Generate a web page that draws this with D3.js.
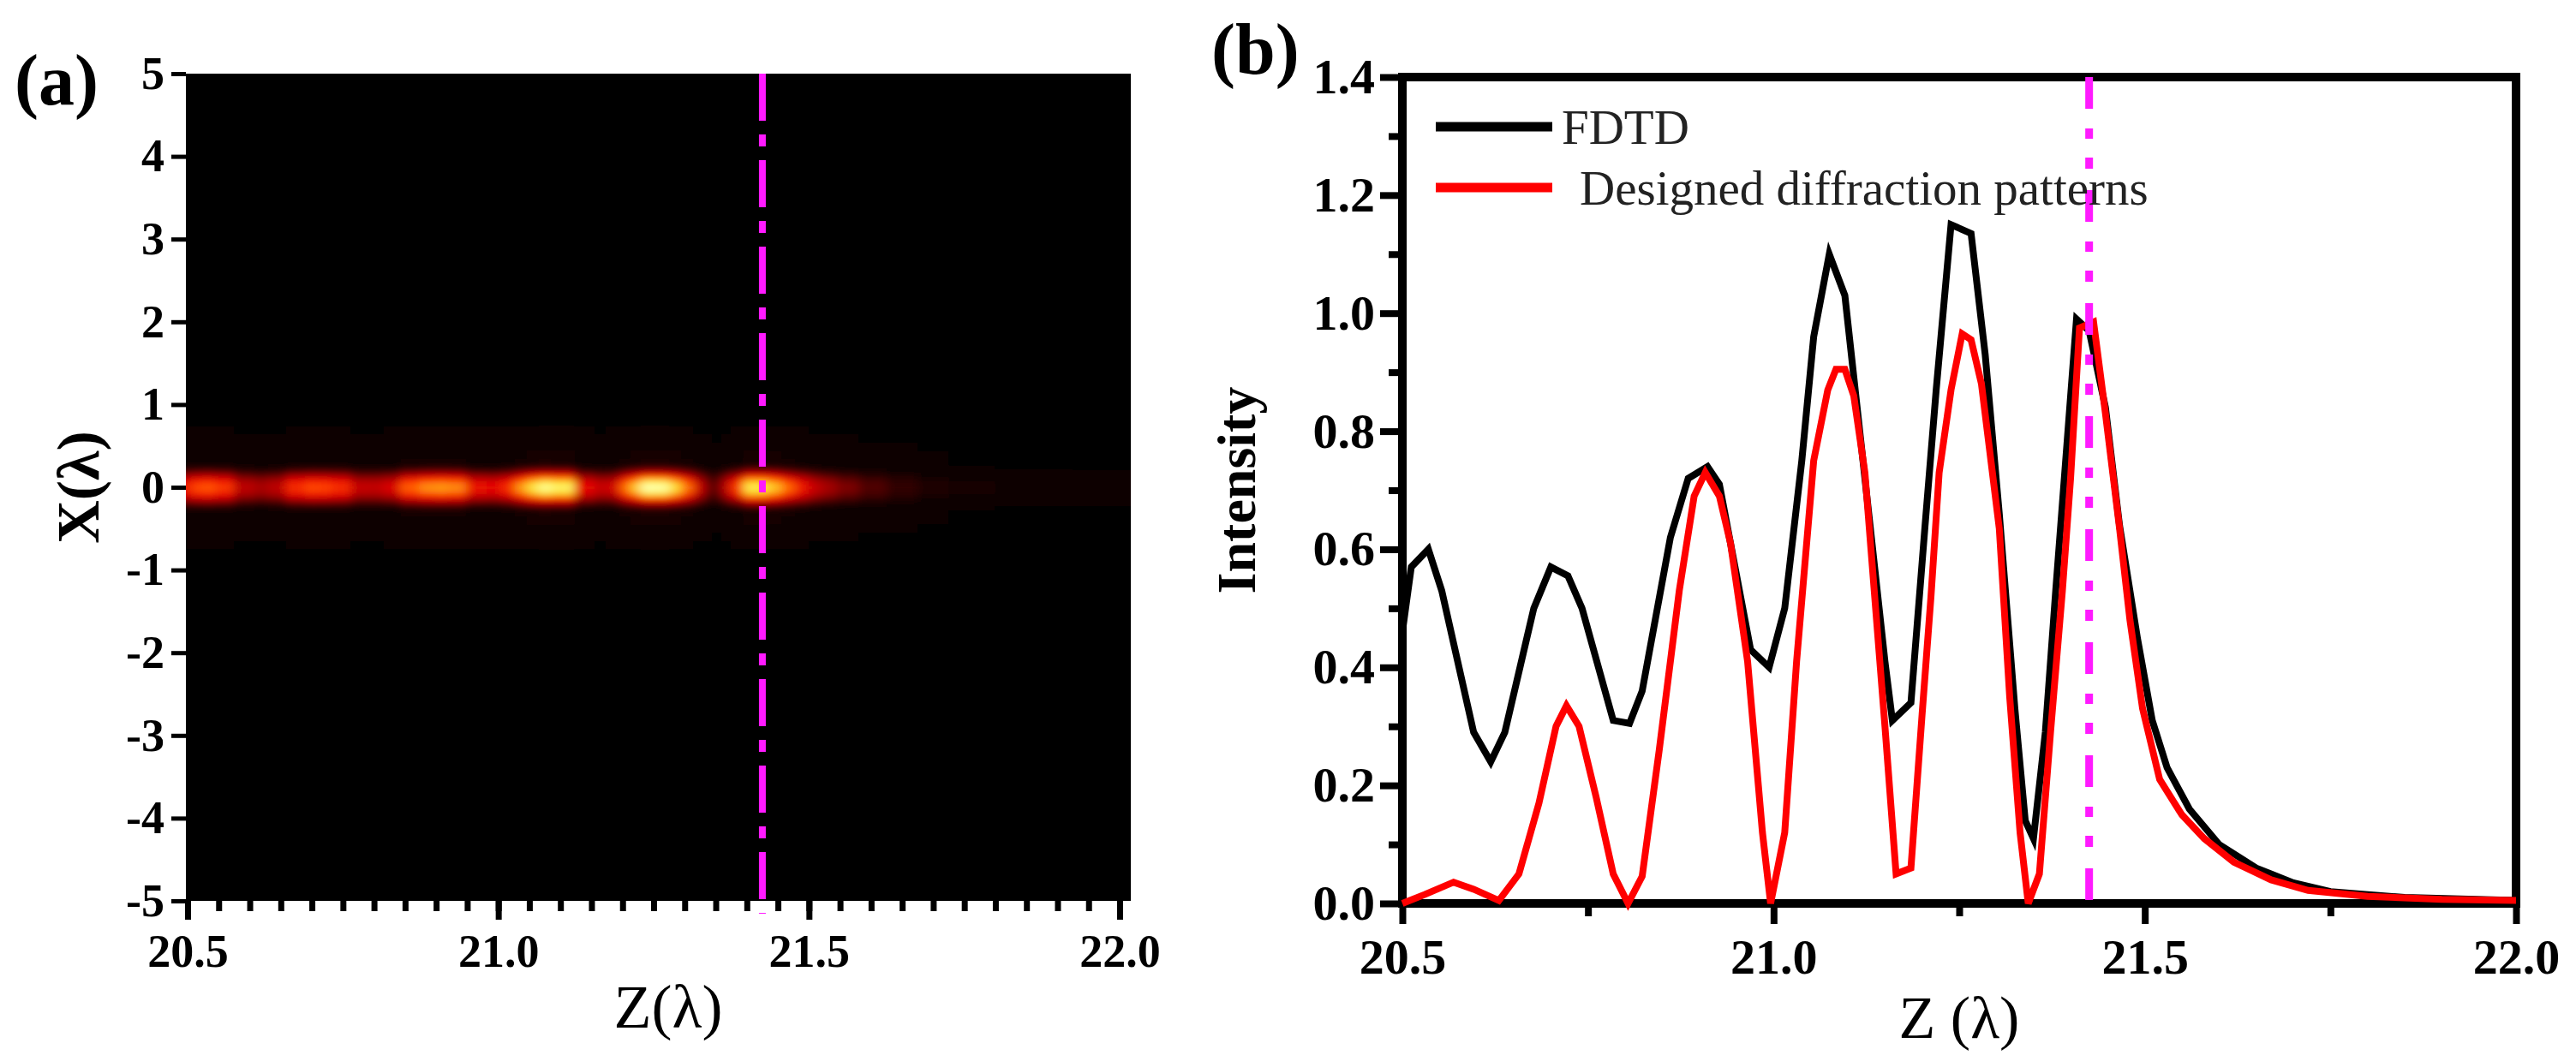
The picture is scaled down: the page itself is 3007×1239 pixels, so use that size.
<!DOCTYPE html>
<html>
<head>
<meta charset="utf-8">
<script src="https://cdn.jsdelivr.net/npm/d3@7"></script>
<style>
  body { margin: 0; background: #fff; }
  svg { display: block; }
</style>
</head>
<body>
<script>
// values

// panel (b) black curve: [z (λ), intensity]
const fdtd = [
  [20.500, 0.46], [20.512, 0.57], [20.535, 0.60], [20.553, 0.53], [20.596, 0.29],
  [20.619, 0.24], [20.638, 0.29], [20.677, 0.50], [20.700, 0.57], [20.723, 0.555],
  [20.742, 0.50], [20.784, 0.31], [20.806, 0.305], [20.823, 0.36], [20.861, 0.62],
  [20.885, 0.72], [20.911, 0.74], [20.927, 0.71], [20.969, 0.43], [20.994, 0.40],
  [21.015, 0.50], [21.038, 0.75], [21.054, 0.96], [21.075, 1.10], [21.096, 1.03],
  [21.150, 0.41], [21.160, 0.31], [21.185, 0.34], [21.204, 0.64], [21.219, 0.87],
  [21.239, 1.15], [21.266, 1.135], [21.285, 0.93], [21.304, 0.66], [21.325, 0.33],
  [21.339, 0.14], [21.350, 0.11], [21.366, 0.29], [21.380, 0.53], [21.408, 0.99],
  [21.425, 0.97], [21.447, 0.84], [21.466, 0.64], [21.490, 0.45], [21.510, 0.31],
  [21.530, 0.23], [21.560, 0.16], [21.600, 0.10], [21.650, 0.06], [21.700, 0.035],
  [21.750, 0.02], [21.850, 0.01], [22.000, 0.005]
];

// panel (b) red curve
const designed = [
  [20.500, 0.0], [20.530, 0.015], [20.569, 0.036], [20.596, 0.024], [20.630, 0.005],
  [20.657, 0.05], [20.684, 0.17], [20.707, 0.30], [20.721, 0.335], [20.738, 0.30],
  [20.761, 0.18], [20.784, 0.05], [20.804, 0.0], [20.823, 0.046], [20.846, 0.26],
  [20.873, 0.53], [20.893, 0.69], [20.908, 0.73], [20.927, 0.69], [20.942, 0.61],
  [20.965, 0.41], [20.985, 0.12], [20.996, 0.0], [21.015, 0.12], [21.031, 0.41],
  [21.054, 0.75], [21.073, 0.87], [21.084, 0.905], [21.096, 0.905], [21.108, 0.86],
  [21.123, 0.73], [21.150, 0.30], [21.165, 0.05], [21.185, 0.06], [21.200, 0.32],
  [21.212, 0.52], [21.223, 0.73], [21.239, 0.87], [21.254, 0.965], [21.266, 0.955],
  [21.280, 0.88], [21.304, 0.635], [21.318, 0.35], [21.332, 0.12], [21.343, 0.0],
  [21.358, 0.05], [21.373, 0.29], [21.389, 0.53], [21.400, 0.72], [21.412, 0.975],
  [21.431, 0.985], [21.447, 0.83], [21.466, 0.635], [21.480, 0.48], [21.497, 0.33],
  [21.520, 0.21], [21.550, 0.15], [21.580, 0.11], [21.620, 0.07], [21.670, 0.04],
  [21.720, 0.022], [21.800, 0.012], [21.900, 0.007], [22.000, 0.005]
];

// panel (a): on-axis field follows the FDTD samples, across the beam it falls off like this
const beamX = [-0.8, -0.7, -0.6, -0.5, -0.4, -0.3, -0.25, -0.2, -0.15, -0.1, -0.05, 0,
               0.05, 0.1, 0.15, 0.2, 0.25, 0.3, 0.4, 0.5, 0.6, 0.7, 0.8];
const beamProfile = [0.0, 0.002, 0.006, 0.012, 0.02, 0.025, 0.06, 0.19, 0.44, 0.72, 0.93, 1.0,
                     0.93, 0.72, 0.44, 0.19, 0.06, 0.025, 0.02, 0.012, 0.006, 0.002, 0.0];

const focusZ = 21.425;

const zTicks = [20.5, 21.0, 21.5, 22.0];
const zMinorA = d3.range(20.5, 22.001, 0.05);
const zMinorB = [20.75, 21.25, 21.75];
const xTicksA = [-5, -4, -3, -2, -1, 0, 1, 2, 3, 4, 5];
const iTicks = [0, 0.2, 0.4, 0.6, 0.8, 1.0, 1.2, 1.4];
const iMinor = [0.1, 0.3, 0.5, 0.7, 0.9, 1.1, 1.3];

const hotColors = ["#060002", "#900000", "#e00000", "#ff4000", "#ff9a10", "#ffe030", "#ffff99", "#ffffff"];

const legendItems = [
  { name: "FDTD", color: "#000" },
  { name: "Designed diffraction patterns", color: "#ff0000" }
];

const W = 3007, H = 1239;
const serif = "'Liberation Serif', 'Times New Roman', serif";

const svg = d3.select("body").append("svg")
    .attr("width", W)
    .attr("height", H);

// ---------- panel (a) ----------
const xA = d3.scaleLinear().domain([20.5, 22.0]).range([219, 1307]);
const yA = d3.scaleLinear().domain([-5, 5]).range([1052, 86]);

const defs = svg.append("defs");
defs.append("clipPath").attr("id", "clipA")
  .append("rect")
    .attr("x", 217).attr("y", yA(5))
    .attr("width", 1320 - 217).attr("height", yA(-5) - yA(5));
defs.append("filter").attr("id", "soft")
    .attr("filterUnits", "userSpaceOnUse")
    .attr("x", 0).attr("y", 0).attr("width", W).attr("height", H)
  .append("feGaussianBlur").attr("stdDeviation", "6 3");

const heatColor = d3.scaleSequential(d3.piecewise(d3.interpolateRgb, hotColors)).domain([0, 1.3]);

// cell edges half way between samples
const zEdges = fdtd.map((d, i) => i === 0 ? 20.47 : (fdtd[i - 1][0] + d[0]) / 2);
zEdges.push(22.03);
const xEdges = beamX.map((v, j) => j === 0 ? v - 0.05 : (beamX[j - 1] + v) / 2);
xEdges.push(beamX[beamX.length - 1] + 0.05);

const cells = [];
fdtd.forEach((d, i) => {
  beamProfile.forEach((p, j) => {
    cells.push({ z0: zEdges[i], z1: zEdges[i + 1], x0: xEdges[j], x1: xEdges[j + 1], v: d[1] * p });
  });
});

const heat = svg.append("g").attr("clip-path", "url(#clipA)");
const heatInner = heat.append("g").attr("filter", "url(#soft)");
heatInner.append("rect")
    .attr("x", 190).attr("y", 60)
    .attr("width", 1160).attr("height", 1020)
    .attr("fill", hotColors[0]);
heatInner.selectAll("rect.cell")
    .data(cells)
    .enter()
    .append("rect")
    .attr("class", "cell")
    .attr("x", d => xA(d.z0))
    .attr("width", d => xA(d.z1) - xA(d.z0) + 0.5)
    .attr("y", d => yA(d.x1))
    .attr("height", d => yA(d.x0) - yA(d.x1) + 0.5)
    .attr("fill", d => heatColor(d.v));

function styleAxis(g, lineWidth, fontSize) {
  g.select(".domain").remove();
  g.attr("font-family", serif)
   .attr("font-size", fontSize)
   .attr("font-weight", "bold");
  g.selectAll(".tick line").attr("stroke", "#000").attr("stroke-width", lineWidth);
  g.selectAll(".tick text").attr("fill", "#000");
}

svg.append("g")
    .attr("transform", `translate(0,${yA(-5)})`)
    .call(d3.axisBottom(xA).tickValues(zMinorA).tickSize(12).tickFormat(""))
    .call(g => styleAxis(g, 7, 54));
svg.append("g")
    .attr("transform", `translate(0,${yA(-5)})`)
    .call(d3.axisBottom(xA).tickValues(zTicks).tickSize(22).tickPadding(17).tickFormat(d3.format(".1f")))
    .call(g => styleAxis(g, 7, 54));
svg.append("g")
    .attr("transform", `translate(${xA(20.5) - 2},0)`)
    .call(d3.axisLeft(yA).tickValues(xTicksA).tickSize(17).tickPadding(8).tickFormat(d => String(d)))
    .call(g => styleAxis(g, 5, 54));

svg.append("line")
    .attr("x1", xA(focusZ)).attr("x2", xA(focusZ))
    .attr("y1", yA(5)).attr("y2", yA(-5) + 15)
    .attr("stroke", "#ff1aff")
    .attr("stroke-width", 8)
    .attr("stroke-dasharray", "55 16 14 16");

svg.append("text")
    .attr("x", 17).attr("y", 122)
    .attr("font-family", serif).attr("font-size", 84).attr("font-weight", "bold")
    .text("(a)");
svg.append("text")
    .attr("transform", `translate(115,${(yA(5) + yA(-5)) / 2}) rotate(-90)`)
    .attr("text-anchor", "middle")
    .attr("font-family", serif).attr("font-size", 70).attr("font-weight", "bold")
    .text("X(λ)");
svg.append("text")
    .attr("x", 780).attr("y", 1200)
    .attr("text-anchor", "middle")
    .attr("font-family", serif).attr("font-size", 72)
    .text("Z(λ)");

// ---------- panel (b) ----------
const xB = d3.scaleLinear().domain([20.5, 22.0]).range([1637, 2937]);
const yB = d3.scaleLinear().domain([0, 1.4]).range([1055, 90]);

svg.append("rect")
    .attr("x", xB(20.5)).attr("y", yB(1.4))
    .attr("width", xB(22) - xB(20.5)).attr("height", yB(0) - yB(1.4))
    .attr("fill", "none")
    .attr("stroke", "#000")
    .attr("stroke-width", 10);

svg.append("g")
    .attr("transform", `translate(0,${yB(0)})`)
    .call(d3.axisBottom(xB).tickValues(zMinorB).tickSize(15).tickFormat(""))
    .call(g => styleAxis(g, 8, 58));
svg.append("g")
    .attr("transform", `translate(0,${yB(0)})`)
    .call(d3.axisBottom(xB).tickValues(zTicks).tickSize(24).tickPadding(17).tickFormat(d3.format(".1f")))
    .call(g => styleAxis(g, 8, 58));
svg.append("g")
    .attr("transform", `translate(${xB(20.5)},0)`)
    .call(d3.axisLeft(yB).tickValues(iMinor).tickSize(16).tickFormat(""))
    .call(g => styleAxis(g, 8, 58));
svg.append("g")
    .attr("transform", `translate(${xB(20.5)},0)`)
    .call(d3.axisLeft(yB).tickValues(iTicks).tickSize(26).tickPadding(6).tickFormat(d3.format(".1f")))
    .call(g => styleAxis(g, 8, 58));

const line = d3.line()
    .x(d => xB(d[0]))
    .y(d => yB(d[1]));

svg.append("path")
    .datum(fdtd)
    .attr("d", line)
    .attr("fill", "none")
    .attr("stroke", "#000")
    .attr("stroke-width", 8);
svg.append("path")
    .datum(designed)
    .attr("d", line)
    .attr("fill", "none")
    .attr("stroke", "#ff0000")
    .attr("stroke-width", 8);

svg.append("line")
    .attr("x1", xB(focusZ)).attr("x2", xB(focusZ))
    .attr("y1", yB(1.4)).attr("y2", yB(0) + 7)
    .attr("stroke", "#ff1aff")
    .attr("stroke-width", 9)
    .attr("stroke-dasharray", "37 23 12 22 13 25");

const legend = svg.append("g").selectAll("g")
    .data(legendItems)
    .enter()
    .append("g")
    .attr("transform", (d, i) => `translate(1676,${148 + i * 71})`);
legend.append("line")
    .attr("x1", 0).attr("x2", 136)
    .attr("stroke", d => d.color)
    .attr("stroke-width", 11);
legend.append("text")
    .attr("x", (d, i) => i === 0 ? 147 : 168)
    .attr("y", 20)
    .attr("font-family", serif).attr("font-size", 57)
    .attr("fill", "#222")
    .text(d => d.name);

svg.append("text")
    .attr("x", 1414).attr("y", 86)
    .attr("font-family", serif).attr("font-size", 84).attr("font-weight", "bold")
    .text("(b)");
svg.append("text")
    .attr("transform", `translate(1465,${(yB(0) + yB(1.4)) / 2}) rotate(-90)`)
    .attr("text-anchor", "middle")
    .attr("font-family", serif).attr("font-size", 64).attr("font-weight", "bold")
    .text("Intensity");
svg.append("text")
    .attr("x", (xB(20.5) + xB(22)) / 2).attr("y", 1212)
    .attr("text-anchor", "middle")
    .attr("font-family", serif).attr("font-size", 70)
    .text("Z (λ)");
</script>
</body>
</html>
